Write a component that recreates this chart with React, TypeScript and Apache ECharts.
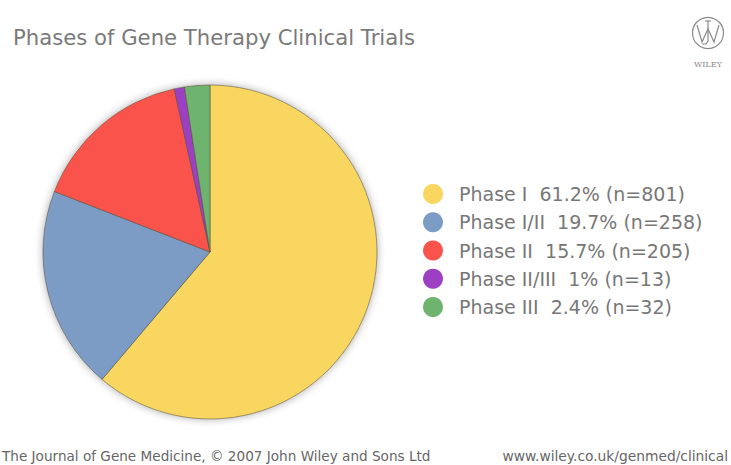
import React, { useEffect, useRef } from "react";
import * as echarts from "echarts";

const categories = ["Phase I", "Phase I/II", "Phase II", "Phase II/III", "Phase III"];
const counts = [801, 258, 205, 13, 32];
const percentLabels = ["61.2%", "19.7%", "15.7%", "1%", "2.4%"];
const colors = ["#F8D660", "#7C9CC6", "#FA534B", "#9D3FC2", "#6EB46E"];

const titleText = "Phases of Gene Therapy Clinical Trials";
const footerLeft = "The Journal of Gene Medicine, \u00A9 2007 John Wiley and Sons Ltd";
const footerRight = "www.wiley.co.uk/genmed/clinical";
const logoText = "WILEY";

export default function App() {
  const ref = useRef<HTMLDivElement>(null);
  useEffect(() => {
    if (!ref.current) return;
    const chart = echarts.init(ref.current, null, { renderer: "svg" });
    const font = "'DejaVu Sans', sans-serif";
    const data = categories.map((c, i) => ({
      name: c,
      value: counts[i],
      itemStyle: { color: colors[i] },
    }));
    const logoStroke = { fill: "none", stroke: "#8a8a8a", lineWidth: 1.2 };
    chart.setOption({
      animation: false,
      backgroundColor: "#ffffff",
      title: {
        text: titleText,
        left: 8,
        top: 22,
        textStyle: { fontFamily: font, fontSize: 21.2, fontWeight: "normal", color: "#7a7a7a" },
      },
      legend: {
        orient: "vertical",
        left: 418,
        top: 179,
        icon: "circle",
        itemWidth: 20,
        itemHeight: 20,
        itemGap: 8.25,
        selectedMode: false,
        itemStyle: { borderWidth: 0 },
        formatter: (name: string) => {
          const i = categories.indexOf(name);
          return `${name}\u00A0\u00A0${percentLabels[i]} (n=${counts[i]})`;
        },
        textStyle: {
          fontFamily: font,
          fontSize: 19,
          color: "#777777",
          padding: [0, 0, 0, 11],
        },
        data: categories,
      },
      graphic: [
        {
          type: "circle",
          shape: { cx: 708, cy: 33, r: 15.5 },
          style: logoStroke,
        },
        {
          type: "polyline",
          shape: { points: [[697, 25], [702, 42], [708, 29], [714, 42], [719, 25]] },
          style: logoStroke,
        },
        {
          type: "polyline",
          shape: { points: [[705, 21], [711, 21]] },
          style: logoStroke,
        },
        {
          type: "polyline",
          shape: { points: [[708, 21], [708, 41], [706, 44], [702, 44]] },
          style: logoStroke,
        },
        {
          type: "text",
          x: 708,
          y: 64,
          style: {
            text: logoText,
            fontFamily: "'DejaVu Serif', serif",
            fontSize: 8,
            fill: "#8a8a8a",
            align: "center",
            verticalAlign: "middle",
          },
        },
        {
          type: "text",
          x: 2,
          y: 456,
          style: {
            text: footerLeft,
            fontFamily: font,
            fontSize: 13.6,
            fill: "#666666",
            verticalAlign: "middle",
          },
        },
        {
          type: "text",
          x: 728,
          y: 456,
          style: {
            text: footerRight,
            fontFamily: font,
            fontSize: 13.8,
            fill: "#666666",
            align: "right",
            verticalAlign: "middle",
          },
        },
      ],
      series: [
        {
          type: "pie",
          silent: true,
          radius: 167,
          center: [210, 252],
          label: { show: false },
          labelLine: { show: false },
          legendHoverLink: false,
          data: [{ name: "_shadow", value: 1 }],
          itemStyle: {
            color: "#d8d2c0",
            shadowBlur: 8,
            shadowColor: "rgba(0,0,0,0.35)",
          },
        },
        {
          type: "pie",
          radius: 167,
          center: [210, 252],
          startAngle: 90,
          clockwise: true,
          label: { show: false },
          labelLine: { show: false },
          itemStyle: { borderColor: "rgba(90,80,60,0.55)", borderWidth: 1 },
          data,
        },
      ],
    });
    return () => chart.dispose();
  }, []);
  return (
    <div
      ref={ref}
      style={{ position: "fixed", left: 0, top: 0, width: 731, height: 465 }}
    />
  );
}
